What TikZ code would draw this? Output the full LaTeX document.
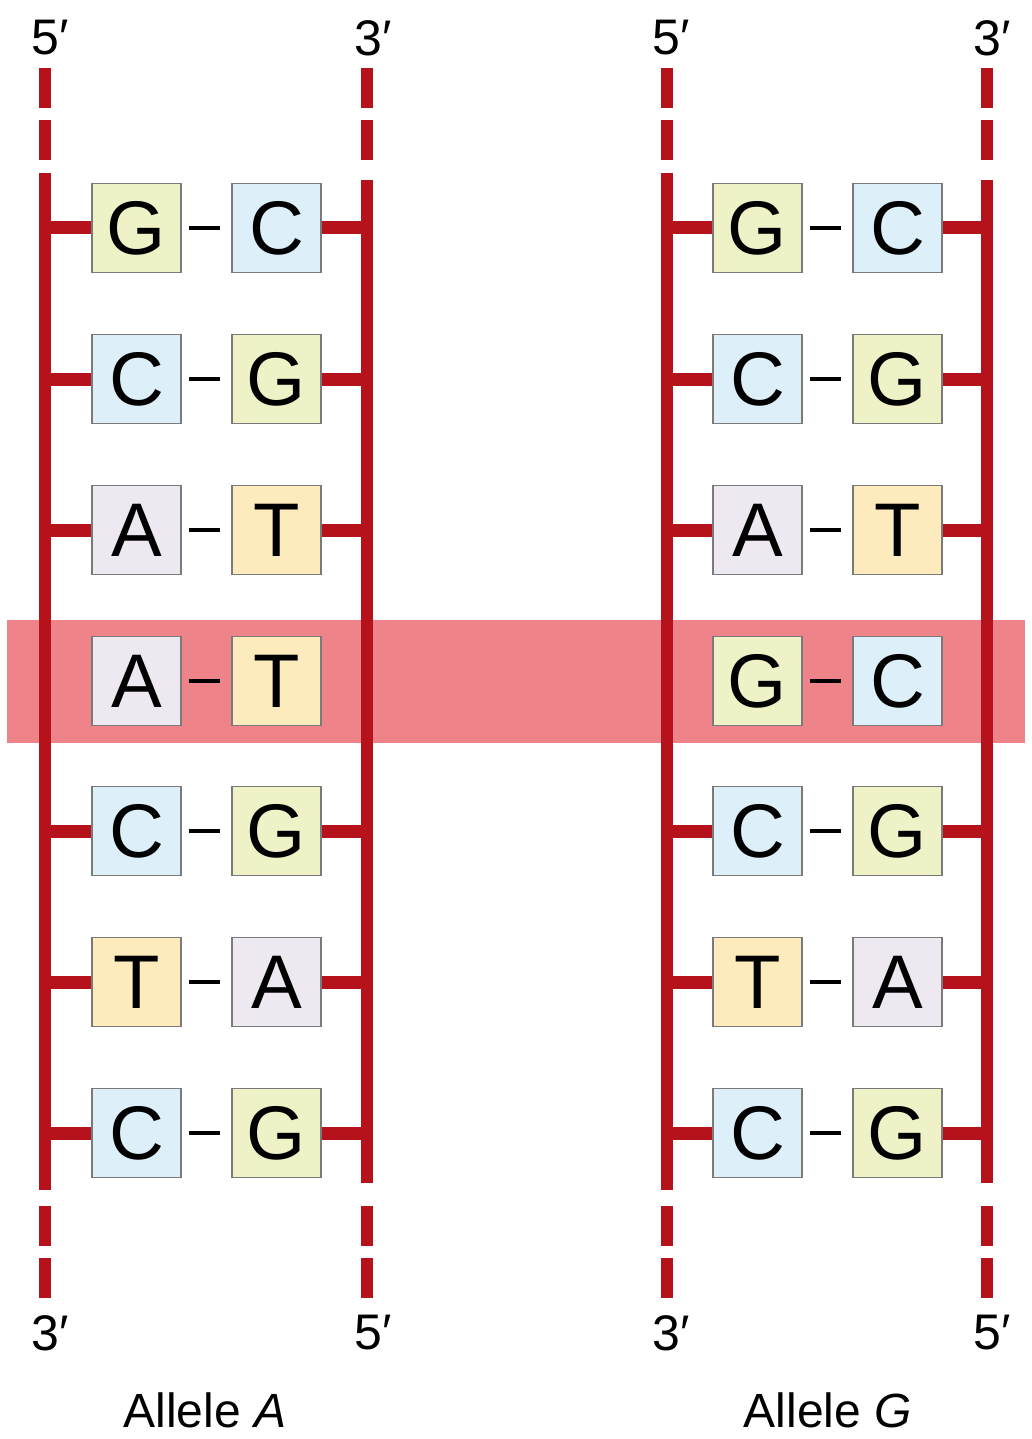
\documentclass[tikz,border=0pt]{standalone}
\usepackage{fontspec}
\setmainfont{Liberation Sans}
\definecolor{strand}{HTML}{B5121B}
\definecolor{band}{HTML}{EE838A}
\definecolor{colG}{HTML}{EEF2C6}
\definecolor{colC}{HTML}{DDEFF9}
\definecolor{colA}{HTML}{EEE8F1}
\definecolor{colT}{HTML}{FEEBBD}
\definecolor{boxline}{HTML}{7A7A7A}
\tikzset{
  base/.style={draw=boxline, line width=1.8pt, minimum width=89pt, minimum height=89pt, inner sep=0pt, font=\fontsize{76}{76}\selectfont},
  bG/.style={base, fill=colG},
  bC/.style={base, fill=colC},
  bA/.style={base, fill=colA},
  bT/.style={base, fill=colT},
  strandline/.style={draw=strand, line width=12pt},
  strandend/.style={draw=strand, line width=12pt, dash pattern=on 40pt off 12pt},
  rung/.style={draw=strand, line width=13pt},
  hbond/.style={draw=black, line width=3.5pt},
  endlabel/.style={font=\fontsize{50}{50}\selectfont, inner sep=0pt},
  allele/.style={font=\fontsize{48}{48}\selectfont, inner sep=0pt},
}
\begin{document}
\begin{tikzpicture}[x=1pt,y=-1pt]
\useasboundingbox (0,0) rectangle (1031,1439);
\fill[white] (0,0) rectangle (1031,1439);
% highlight band
\fill[band] (7,620) rectangle (1025,743);
% strands
\foreach \nm/\x/\ta/\tb in {LL/45/173/1190, LR/367/180/1183, RL/667/173/1190, RR/987/180/1183}{
  \coordinate (\nm top) at (\x,\ta);
  \coordinate (\nm bot) at (\x,\tb);
  \coordinate (\nm dt) at (\x,68);
  \coordinate (\nm db) at (\x,1299);
  \draw[strandline] (\nm top) -- (\nm bot);
  \draw[strandend] (\nm dt) -- (\x,162);
  \draw[strandend] (\x,1206) -- (\nm db);
}
% end labels
\node[endlabel] (l5a) at (50,38) {5\char"2032};
\node[endlabel] (l3a) at (373,38) {3\char"2032};
\node[endlabel] (l3b) at (50,1333) {3\char"2032};
\node[endlabel] (l5b) at (373,1333) {5\char"2032};
\node[endlabel] (r5a) at (671,38) {5\char"2032};
\node[endlabel] (r3a) at (992,38) {3\char"2032};
\node[endlabel] (r3b) at (671,1333) {3\char"2032};
\node[endlabel] (r5b) at (992,1333) {5\char"2032};
% allele names
\node[allele] (alA) at (205,1410) {Allele \textit{A}};
\node[allele] (alG) at (828,1410) {Allele \textit{G}};
% base pairs
\foreach \i/\y/\a/\b/\c/\d/\r in {1/228/G/C/G/C/1, 2/379/C/G/C/G/1, 3/530/A/T/A/T/1, 4/681/A/T/G/C/0, 5/831/C/G/C/G/1, 6/982/T/A/T/A/1, 7/1133/C/G/C/G/1}{
  \node[b\a] (la\i) at (136.5,\y) {\a};
  \node[b\b] (lb\i) at (276.5,\y) {\b};
  \node[b\c] (ra\i) at (757.5,\y) {\c};
  \node[b\d] (rb\i) at (897.5,\y) {\d};
  \draw[hbond] ([xshift=7pt]la\i.east) -- ([xshift=-11pt]lb\i.west);
  \draw[hbond] ([xshift=7pt]ra\i.east) -- ([xshift=-11pt]rb\i.west);
  \ifnum\r=1
    \coordinate (sLL\i) at (45,\y);
    \coordinate (sLR\i) at (367,\y);
    \coordinate (sRL\i) at (667,\y);
    \coordinate (sRR\i) at (987,\y);
    \draw[rung] (sLL\i) -- (la\i.west);
    \draw[rung] (lb\i.east) -- (sLR\i);
    \draw[rung] (sRL\i) -- (ra\i.west);
    \draw[rung] (rb\i.east) -- (sRR\i);
  \fi
}
\end{tikzpicture}
\end{document}
